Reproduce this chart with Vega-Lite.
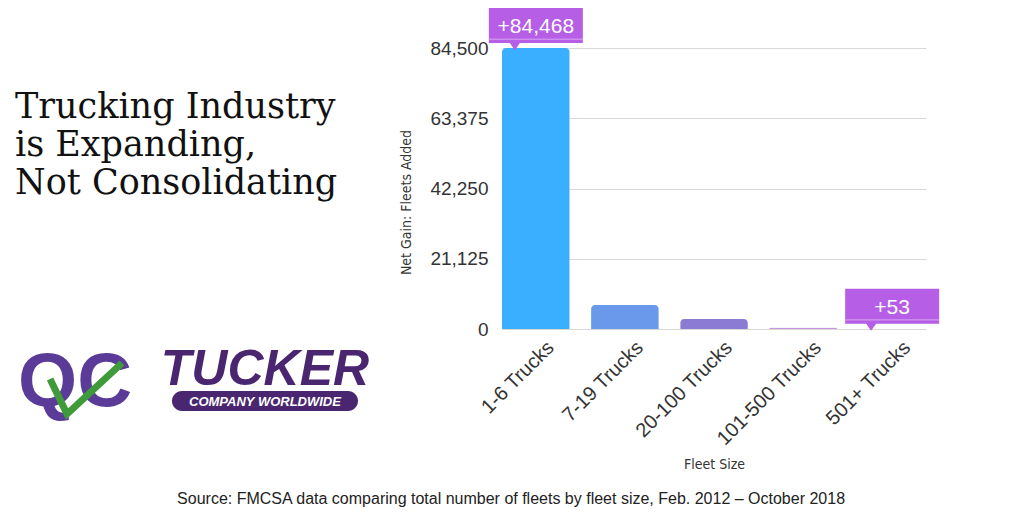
{
  "$schema": "https://vega.github.io/schema/vega-lite/v6.json",
  "background": "white",
  "padding": {"left": 15, "top": 8, "right": 0, "bottom": 0},
  "bounds": "flush",
  "spacing": 177,
  "config": {"view": {"stroke": null}, "font": "Liberation Sans"},
  "title": {
    "text": "Source: FMCSA data comparing total number of fleets by fleet size, Feb. 2012 – October 2018",
    "orient": "bottom", "anchor": "middle", "font": "Liberation Sans", "fontSize": 16,
    "fontWeight": "normal", "color": "#222", "offset": 19, "dx": 33
  },
  "hconcat": [
    {
      "width": 310,
      "height": 281,
      "title": {
        "text": ["Trucking Industry", "is Expanding,", "Not Consolidating"],
        "anchor": "start", "frame": "group", "orient": "top",
        "font": "DejaVu Serif", "fontSize": 35, "fontWeight": "normal",
        "lineHeight": 38, "color": "#111", "baseline": "top", "offset": -153
      },
      "data": {"values": [{"logo": "QC"}, {"logo": "TUCKER"}]},
      "encoding": {
        "x": {"field": "logo", "type": "nominal", "sort": null, "scale": {"type": "point", "padding": 0.316}, "axis": null}
      },
      "layer": [
        {
          "transform": [{"filter": "datum.logo == 'QC'"}],
          "mark": {"type": "text", "font": "Liberation Sans", "fontWeight": "bold", "fontSize": 76, "color": "#5b3b98", "baseline": "alphabetic", "dy": 217},
          "encoding": {"text": {"field": "logo"}}
        },
        {
          "transform": [{"filter": "datum.logo == 'QC'"}],
          "mark": {"type": "point", "shape": "M-0.5,-0.19L-0.16,0.51L0.94,-0.51", "size": 10000, "filled": false, "stroke": "#3f9b3a", "strokeWidth": 7, "opacity": 1, "yOffset": 200}
        },
        {
          "transform": [{"filter": "datum.logo == 'TUCKER'"}],
          "mark": {"type": "text", "font": "Liberation Sans", "fontWeight": "bold", "fontStyle": "italic", "fontSize": 50, "color": "#4a2670", "baseline": "alphabetic", "dy": 196},
          "encoding": {"text": {"field": "logo"}}
        },
        {
          "transform": [{"filter": "datum.logo == 'TUCKER'"}],
          "mark": {"type": "point", "shape": "M-0.8925,-0.1075L0.8925,-0.1075A0.1075,0.1075 0 0 1 0.8925,0.1075L-0.8925,0.1075A0.1075,0.1075 0 0 1 -0.8925,-0.1075Z", "size": 34596, "filled": true, "color": "#4a2670", "strokeWidth": 0, "opacity": 1, "yOffset": 212.5}
        },
        {
          "transform": [{"filter": "datum.logo == 'TUCKER'"}],
          "mark": {"type": "text", "text": "COMPANY WORLDWIDE", "font": "Liberation Sans", "fontWeight": "bold", "fontStyle": "italic", "fontSize": 13, "color": "white", "baseline": "middle", "dy": 213}
        }
      ]
    },
    {
      "width": 424,
      "height": 281,
      "data": {
        "values": [
          {"size": "1-6 Trucks", "gain": 84468},
          {"size": "7-19 Trucks", "gain": 7200},
          {"size": "20-100 Trucks", "gain": 3000},
          {"size": "101-500 Trucks", "gain": 420},
          {"size": "501+ Trucks", "gain": 53}
        ]
      },
      "encoding": {
        "x": {
          "field": "size", "type": "nominal", "sort": null,
          "scale": {"paddingInner": 0.24, "paddingOuter": 0},
          "axis": {
            "title": "Fleet Size", "labelAngle": -45, "labelFont": "Liberation Sans", "labelFontSize": 20,
            "labelColor": "#333", "ticks": false, "domain": false, "labelPadding": 8, "labelOffset": 8,
            "titleFont": "DejaVu Sans Condensed", "titleFontSize": 14, "titleFontWeight": "normal",
            "titleColor": "#333", "titlePadding": 9
          }
        },
        "y": {
          "field": "gain", "type": "quantitative",
          "scale": {"domain": [0, 84500], "nice": false},
          "axis": {
            "values": [0, 21125, 42250, 63375, 84500], "format": ",d",
            "title": "Net Gain: Fleets Added", "grid": true, "gridColor": "#d9d9d9",
            "ticks": false, "domain": false, "labelFont": "Liberation Sans", "labelFontSize": 19,
            "labelColor": "#333", "labelPadding": 14,
            "titleFont": "DejaVu Sans Condensed", "titleFontSize": 14, "titleFontWeight": "normal",
            "titleColor": "#333", "titlePadding": 16, "titleY": 154
          }
        }
      },
      "layer": [
        {
          "mark": {"type": "bar", "cornerRadiusTopLeft": 4, "cornerRadiusTopRight": 4},
          "encoding": {
            "color": {
              "field": "size", "type": "nominal", "sort": null, "legend": null,
              "scale": {
                "domain": ["1-6 Trucks", "7-19 Trucks", "20-100 Trucks", "101-500 Trucks", "501+ Trucks"],
                "range": ["#3bafff", "#6a98eb", "#8c7bd5", "#c896dc", "#dca9dc"]
              }
            }
          }
        },
        {
          "transform": [{"filter": {"field": "size", "oneOf": ["1-6 Trucks", "501+ Trucks"]}}],
          "mark": {"type": "point", "shape": "M-1,-0.851L1,-0.851L1,-0.106L-0.341,-0.106L-0.447,0.043L-0.553,-0.106L-1,-0.106Z", "size": 8836, "filled": true, "color": "#b65ee5", "strokeWidth": 0, "opacity": 1}
        },
        {
          "transform": [{"filter": {"field": "size", "oneOf": ["1-6 Trucks", "501+ Trucks"]}}],
          "mark": {"type": "point", "shape": "M-1,-0.19L1,-0.19", "size": 8836, "filled": false, "stroke": "#d9a6f2", "strokeWidth": 1, "opacity": 1}
        },
        {
          "transform": [{"filter": {"field": "size", "oneOf": ["1-6 Trucks", "501+ Trucks"]}}],
          "mark": {"type": "text", "font": "Liberation Sans", "fontSize": 21, "color": "white", "baseline": "middle", "dy": -21},
          "encoding": {"text": {"field": "gain", "type": "quantitative", "format": "+,"}}
        }
      ]
    }
  ]
}
